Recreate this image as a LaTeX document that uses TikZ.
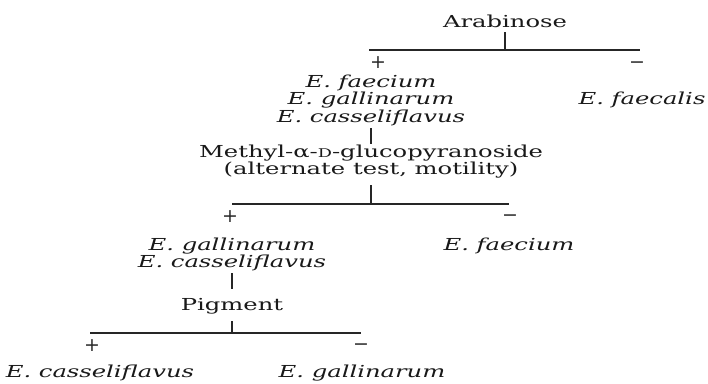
\documentclass[tikz,border=0pt]{standalone}
\usepackage{fontspec}
\setmainfont{DejaVu Serif}
\usepackage{graphicx}
\usetikzlibrary{positioning}

% wide lettering, as in the printed key
\newcommand{\widelines}[1]{\scalebox{1.47}[1]{\begin{tabular}[t]{@{}c@{}}#1\end{tabular}}}

\begin{document}
\begin{tikzpicture}[x=1pt,y=-1pt,
  lbl/.style={inner sep=0pt,anchor=base,text=black!90,font=\fontsize{16.5}{17.5}\selectfont},
  sign/.style={inner sep=0pt,anchor=base,text=black!85,font=\fontsize{19}{19}\selectfont},
  link/.style={line width=1.4pt,black!85}]
  \useasboundingbox (0,0) rectangle (708,383);

  % first test: arabinose
  \node[lbl] (arab) at (505,27) {\widelines{Arabinose}};
  \coordinate (jA) at (505,50);
  \coordinate (barAl) at (369,50);
  \coordinate (barAr) at (640,50);
  \draw[link] (arab.south) -- (jA);
  \draw[link] (barAl) -- (barAr);
  \node[sign] (plusA) at (378,68) {+};
  \node[sign] (minusA) at (637,68) {−};
  \node[lbl] (grpA) at (371,87)
    {\widelines{\textit{E. faecium}\\ \textit{E. gallinarum}\\ \textit{E. casseliflavus}}};
  \node[lbl] (faecalis) at (642,104) {\widelines{\textit{E. faecalis}}};

  % second test: methyl-alpha-D-glucopyranoside
  \node[lbl] (mdg) at (371,157)
    {\widelines{Methyl-α-{\fontsize{12}{12}\selectfont D}-glucopyranoside\\ (alternate test, motility)}};
  \draw[link] (grpA.south) -- (mdg.north);
  \coordinate (jB) at (371,204);
  \coordinate (barBl) at (232,204);
  \coordinate (barBr) at (509,204);
  \draw[link] ([yshift=-5pt]mdg.south) -- (jB);
  \draw[link] (barBl) -- (barBr);
  \node[sign] (plusB) at (230,222) {+};
  \node[sign] (minusB) at (510,221) {−};
  \node[lbl] (grpB) at (232,250)
    {\widelines{\textit{E. gallinarum}\\ \textit{E. casseliflavus}}};
  \node[lbl] (faeciumB) at (509,250) {\widelines{\textit{E. faecium}}};

  % third test: pigment
  \node[lbl] (pig) at (232,310) {\widelines{Pigment}};
  \draw[link] (grpB.south) -- ([yshift=9pt]pig.north);
  \coordinate (jC) at (232,333);
  \coordinate (barCl) at (90,333);
  \coordinate (barCr) at (361,333);
  \draw[link] ([yshift=-6pt]pig.south) -- (jC);
  \draw[link] (barCl) -- (barCr);
  \node[sign] (plusC) at (92,351) {+};
  \node[sign] (minusC) at (361,350) {−};
  \node[lbl] (cass) at (100,377) {\widelines{\textit{E. casseliflavus}}};
  \node[lbl] (gall) at (362,377) {\widelines{\textit{E. gallinarum}}};
\end{tikzpicture}
\end{document}
